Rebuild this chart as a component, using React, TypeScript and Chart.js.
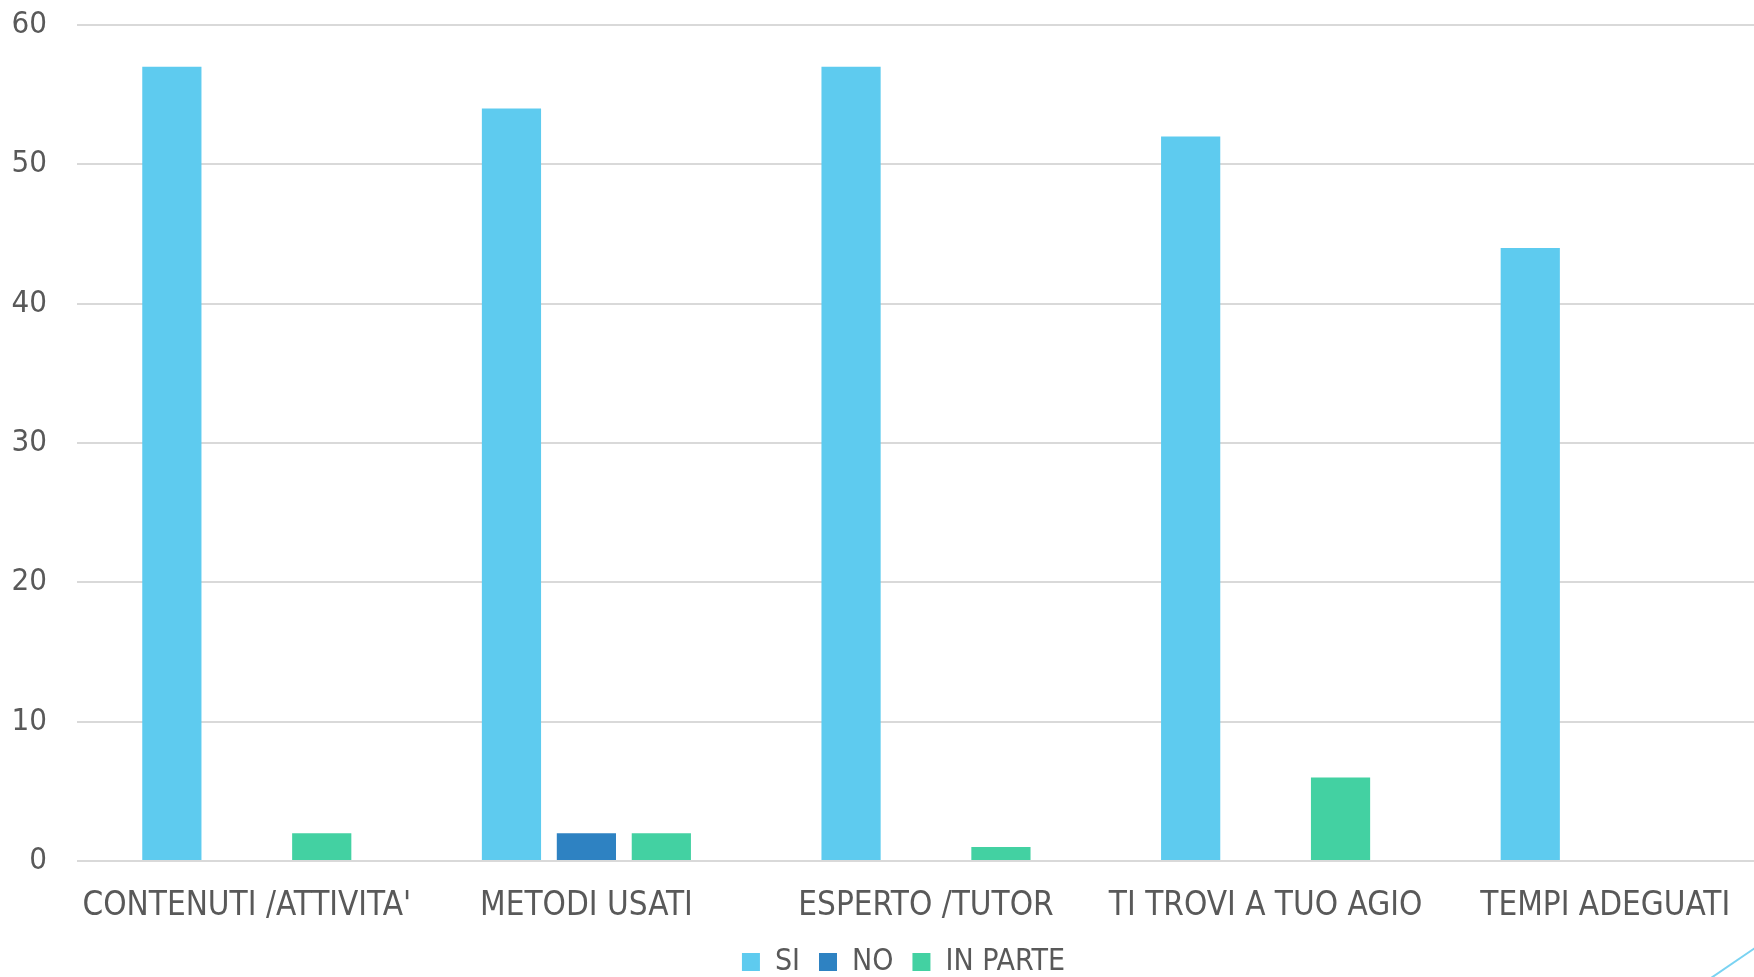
import React, { useEffect, useRef } from "react";
import { Chart, registerables } from "chart.js";

Chart.register(...registerables);

const categories = [
  "CONTENUTI /ATTIVITA'",
  "METODI USATI",
  "ESPERTO /TUTOR",
  "TI TROVI A TUO AGIO",
  "TEMPI ADEGUATI",
];
const siValues = [57, 54, 57, 52, 44];
const noValues = [0, 2, 0, 0, 0];
const inParteValues = [2, 2, 1, 6, 0];
const seriesNames = ["SI", "NO", "IN PARTE"];
const yTicks = [0, 10, 20, 30, 40, 50, 60];

const FONT = "'DejaVu Sans Condensed', 'DejaVu Sans', sans-serif";
const TEXT = "#595959";
const VIEW_W = 1754;
const VIEW_H = 977;
const CANVAS_W = 1775; // plot area runs past the right edge of the picture

const legendShift = {
  id: "legendShift",
  afterLayout(chart: any) {
    if (chart.legend) {
      chart.legend.left += 16;
      chart.legend.right += 16;
    }
  },
};

const cornerLine = {
  id: "cornerLine",
  afterDraw(chart: any) {
    const { ctx, height } = chart;
    ctx.save();
    ctx.strokeStyle = "#7ad3f2";
    ctx.lineWidth = 2;
    ctx.beginPath();
    ctx.moveTo(VIEW_W - 43, height + 1);
    ctx.lineTo(VIEW_W + 1, height - 29);
    ctx.stroke();
    ctx.restore();
  },
};

export default function App() {
  const ref = useRef<HTMLCanvasElement>(null);
  useEffect(() => {
    if (!ref.current) return;
    const chart = new Chart(ref.current, {
      type: "bar",
      data: {
        labels: categories,
        datasets: [
          { label: seriesNames[0], data: siValues, backgroundColor: "#5ecbef" },
          { label: seriesNames[1], data: noValues, backgroundColor: "#2e82c2" },
          { label: seriesNames[2], data: inParteValues, backgroundColor: "#43d1a2" },
        ],
      },
      options: {
        animation: false,
        responsive: false,
        layout: { padding: { top: 25, left: 0, right: 0, bottom: -10 } },
        datasets: {
          bar: { categoryPercentage: 0.662, barPercentage: 0.79 },
        },
        plugins: {
          tooltip: { enabled: false },
          legend: {
            position: "bottom",
            labels: {
              font: { family: FONT, size: 30 },
              color: TEXT,
              boxWidth: 18,
              boxHeight: 18,
              padding: 19,
            },
          },
        },
        scales: {
          x: {
            grid: { display: false },
            border: { display: false },
            ticks: {
              font: { family: FONT, size: 33 },
              color: TEXT,
              padding: 18,
              maxRotation: 0,
              autoSkip: false,
            },
            afterFit(scale: any) {
              scale.height = 67;
            },
          },
          y: {
            min: 0,
            max: 60,
            afterBuildTicks(scale: any) {
              scale.ticks = yTicks.map((v) => ({ value: v }));
            },
            grid: { color: "#d9d9d9", lineWidth: 2, drawTicks: false },
            border: { display: false },
            ticks: {
              font: { family: FONT, size: 31 },
              color: TEXT,
              padding: 30,
            },
            afterFit(scale: any) {
              scale.width = 77;
              scale.paddingTop = 0;
              scale.paddingBottom = 0;
            },
          },
        },
      },
      plugins: [legendShift, cornerLine],
    });
    return () => chart.destroy();
  }, []);
  return (
    <div
      style={{
        position: "fixed",
        left: 0,
        top: 0,
        width: VIEW_W,
        height: VIEW_H,
        overflow: "hidden",
        background: "#fff",
      }}
    >
      <canvas ref={ref} width={CANVAS_W} height={VIEW_H} style={{ display: "block" }} />
    </div>
  );
}
